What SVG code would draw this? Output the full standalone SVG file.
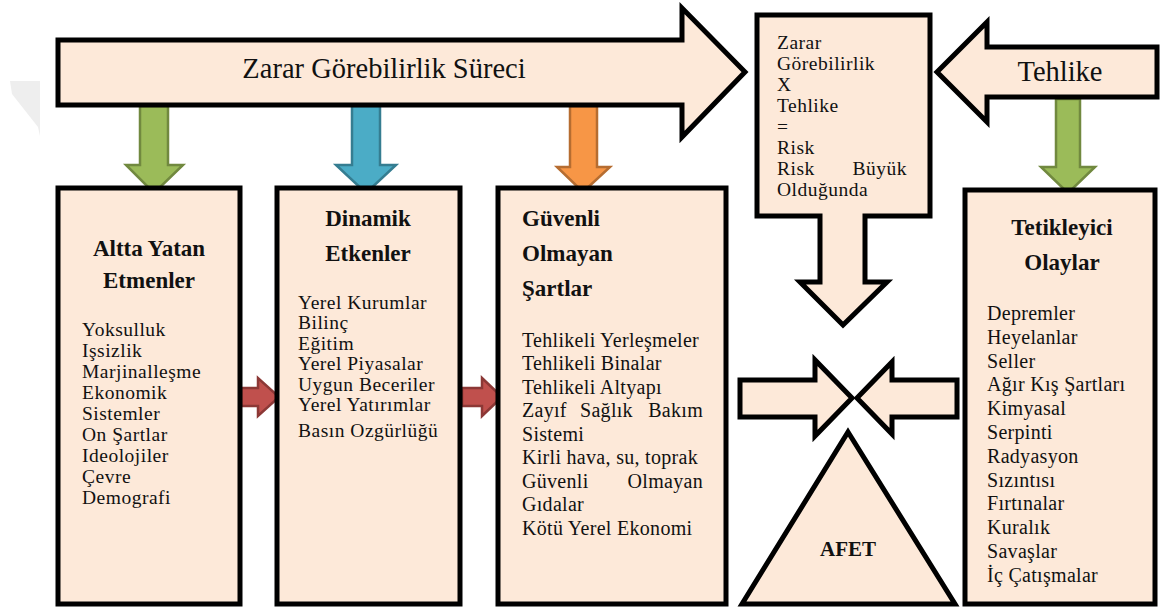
<svg xmlns="http://www.w3.org/2000/svg" width="1160" height="610" viewBox="0 0 1160 610">
<style>
.shape{fill:#fde9d9;stroke:#000;stroke-width:5;stroke-linejoin:miter}
text{font-family:'Liberation Serif','Times New Roman',serif;fill:#111}
.body{font-size:20px;letter-spacing:0.3px}
.tight{font-size:19.5px;letter-spacing:0.5px}
.title{font-size:23px;font-weight:bold}
.big{font-size:28.5px}
.green{fill:#9bbb59;stroke:#71893f;stroke-width:2.5}
.blue{fill:#4bacc6;stroke:#357d91;stroke-width:2.5}
.orange{fill:#f79646;stroke:#b66d31;stroke-width:2.5}
.red{fill:#c0504d;stroke:#8c3836;stroke-width:2.5}
</style>
<rect width="1160" height="610" fill="#fff"/>
<polygon points="10,81 40,81 40,136 38,127 12,94" fill="#eeeeee"/>

<g id="connectors">
  <path class="green" d="M140,106 H168 V165 H183 L154,193 L126,165 H140 Z"/>
  <path class="blue" d="M352,106 H380 V165 H396 L366,193 L336,165 H352 Z"/>
  <path class="orange" d="M570,106 H597 V167 H610 L583,192 L557,167 H570 Z"/>
  <path class="green" d="M1056,99 H1080 V167 H1095 L1068,193 L1041,167 H1056 Z"/>
  <path class="red" d="M241,388 H258 V378 L279,397 L258,416 V406 H241 Z"/>
  <path class="red" d="M462,388 H482 V378 L502,397 L482,416 V406 H462 Z"/>
  <path class="shape" d="M740,380 H815 V360 L852,398 L815,436 V417 H740 Z"/>
  <path class="shape" d="M857,398 L892,362 V380 H957 V417 H892 V434 Z"/>
</g>

<g id="surec">
  <path class="shape" d="M58,40 H682 V8 L745,72 L682,137 V105 H58 Z"/>
  <text class="big" x="384" y="78" text-anchor="middle">Zarar Görebilirlik Süreci</text>
</g>

<g id="tehlike">
  <path class="shape" d="M937,72 L987,22 V47 H1157 V97 H987 V122 Z"/>
  <text class="big" x="1060" y="81" text-anchor="middle">Tehlike</text>
</g>

<g id="risk">
  <path class="shape" d="M757,15 H930 V216 H865 V282 H887 L843,325 L800,282 H820 V216 H757 Z"/>
  <text class="tight" x="777" y="49">Zarar</text>
  <text class="tight" x="777" y="70">Görebilirlik</text>
  <text class="tight" x="777" y="91">X</text>
  <text class="tight" x="777" y="112">Tehlike</text>
  <text class="tight" x="777" y="133">=</text>
  <text class="tight" x="777" y="154">Risk</text>
  <text class="tight" x="777" y="175">Risk</text>
  <text class="tight" x="907" y="175" text-anchor="end">Büyük</text>
  <text class="tight" x="777" y="196">Olduğunda</text>
</g>

<g id="altta">
  <rect class="shape" x="58" y="188" width="182" height="416"/>
  <text class="title" x="149" y="256" text-anchor="middle">Altta Yatan</text>
  <text class="title" x="149" y="288" text-anchor="middle">Etmenler</text>
  <text class="tight" x="82" y="336">Yoksulluk</text>
  <text class="tight" x="82" y="357">Işsizlik</text>
  <text class="tight" x="82" y="378">Marjinalleşme</text>
  <text class="tight" x="82" y="399">Ekonomik</text>
  <text class="tight" x="82" y="420">Sistemler</text>
  <text class="tight" x="82" y="441">On Şartlar</text>
  <text class="tight" x="82" y="462">Ideolojiler</text>
  <text class="tight" x="82" y="483">Çevre</text>
  <text class="tight" x="82" y="504">Demografi</text>
</g>

<g id="dinamik">
  <rect class="shape" x="277" y="188" width="183" height="416"/>
  <text class="title" x="368" y="226" text-anchor="middle">Dinamik</text>
  <text class="title" x="368" y="261" text-anchor="middle">Etkenler</text>
  <text class="tight" x="298" y="309">Yerel Kurumlar</text>
  <text class="tight" x="298" y="329">Bilinç</text>
  <text class="tight" x="298" y="350">Eğitim</text>
  <text class="tight" x="298" y="370">Yerel Piyasalar</text>
  <text class="tight" x="298" y="391">Uygun Beceriler</text>
  <text class="tight" x="298" y="411">Yerel Yatırımlar</text>
  <text class="tight" x="298" y="437">Basın Ozgürlüğü</text>
</g>

<g id="guvenli">
  <rect class="shape" x="498" y="188" width="228" height="416"/>
  <text class="title" x="522" y="226">Güvenli</text>
  <text class="title" x="522" y="261">Olmayan</text>
  <text class="title" x="522" y="296">Şartlar</text>
  <text class="body" x="522" y="347">Tehlikeli Yerleşmeler</text>
  <text class="body" x="522" y="370">Tehlikeli Binalar</text>
  <text class="body" x="522" y="394">Tehlikeli Altyapı</text>
  <text class="body" x="522" y="417">Zayıf</text>
  <text class="body" x="580" y="417">Sağlık</text>
  <text class="body" x="703" y="417" text-anchor="end">Bakım</text>
  <text class="body" x="522" y="441">Sistemi</text>
  <text class="body" x="522" y="464">Kirli hava, su, toprak</text>
  <text class="body" x="522" y="488">Güvenli</text>
  <text class="body" x="703" y="488" text-anchor="end">Olmayan</text>
  <text class="body" x="522" y="511">Gıdalar</text>
  <text class="body" x="522" y="535">Kötü Yerel Ekonomi</text>
</g>

<g id="tetikleyici">
  <rect class="shape" x="965" y="190" width="190" height="414"/>
  <text class="title" x="1062" y="235" text-anchor="middle">Tetikleyici</text>
  <text class="title" x="1062" y="270" text-anchor="middle">Olaylar</text>
  <text class="body" x="987" y="320">Depremler</text>
  <text class="body" x="987" y="344">Heyelanlar</text>
  <text class="body" x="987" y="368">Seller</text>
  <text class="body" x="987" y="391">Ağır Kış Şartları</text>
  <text class="body" x="987" y="415">Kimyasal</text>
  <text class="body" x="987" y="439">Serpinti</text>
  <text class="body" x="987" y="463">Radyasyon</text>
  <text class="body" x="987" y="487">Sızıntısı</text>
  <text class="body" x="987" y="510">Fırtınalar</text>
  <text class="body" x="987" y="534">Kuralık</text>
  <text class="body" x="987" y="558">Savaşlar</text>
  <text class="body" x="987" y="582">İç Çatışmalar</text>
</g>

<g id="afet">
  <path class="shape" d="M848,432 L955,604 H742 Z"/>
  <text class="title" x="848" y="556" text-anchor="middle" style="font-size:21px">AFET</text>
</g>
</svg>
